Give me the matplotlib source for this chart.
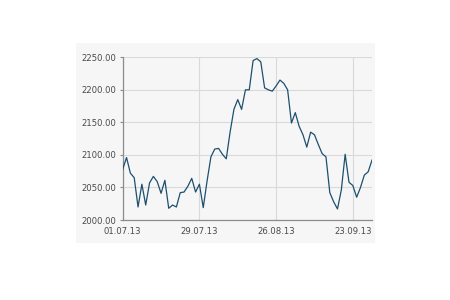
import matplotlib
matplotlib.use("Agg")
import matplotlib.pyplot as plt
from matplotlib.patches import Rectangle

# Closing values per trading day, 01.07.13 .. 30.09.13
values = [2078, 2096, 2072, 2065, 2020, 2055, 2023, 2057, 2067, 2059,
          2041, 2061, 2018, 2023, 2020, 2042, 2043, 2052, 2064, 2043,
          2055, 2019, 2060, 2097, 2109, 2110, 2101, 2094, 2135, 2170,
          2185, 2170, 2200, 2200, 2245, 2248, 2243, 2203, 2200, 2198,
          2206, 2215, 2210, 2200, 2149, 2165, 2144, 2131, 2112, 2135,
          2131, 2116, 2102, 2097, 2042, 2028, 2017, 2046, 2101, 2058,
          2053, 2035, 2050, 2069, 2074, 2092]
tick_labels = ["01.07.13", "29.07.13", "26.08.13", "23.09.13"]
tick_index = [0, 20, 40, 60]
y_ticks = [2000, 2050, 2100, 2150, 2200, 2250]

fig = plt.figure(figsize=(4.5, 3.0), dpi=100)
fig.patch.set_facecolor("white")
fig.patches.append(Rectangle((76/450, 1-243/300), 299/450, 200/300,
                             transform=fig.transFigure, facecolor="#f6f6f6",
                             edgecolor="none", zorder=-10))
ax = fig.add_axes([122.7/450, 1-220/300, (372-122.7)/450, (220-57.3)/300])
ax.set_zorder(5)
ax.set_facecolor("#f6f6f6")

ax.plot(range(len(values)), values, color="#1d4f6f", linewidth=0.9, zorder=3)

ax.set_xlim(0, len(values) - 1)
ax.set_ylim(2000, 2250)
ax.set_yticks(y_ticks)
ax.set_yticklabels([f"{v:.2f}" for v in y_ticks])
ax.set_xticks(tick_index)
ax.set_xticklabels(tick_labels)

ax.grid(True, color="#d9d9d9", linewidth=0.8, zorder=1)
ax.set_axisbelow(True)
for s in ["top", "right"]:
    ax.spines[s].set_visible(False)
for s in ["left", "bottom"]:
    ax.spines[s].set_color("#8c8c8c")
    ax.spines[s].set_linewidth(0.9)

ax.tick_params(axis="y", length=2.5, width=0.8, color="#8c8c8c", pad=2,
               labelsize=6.1, labelcolor="#4a4a4a")
ax.tick_params(axis="x", length=0, pad=5, labelsize=6.1, labelcolor="#4a4a4a")

fig.savefig("out.png", dpi=100)
